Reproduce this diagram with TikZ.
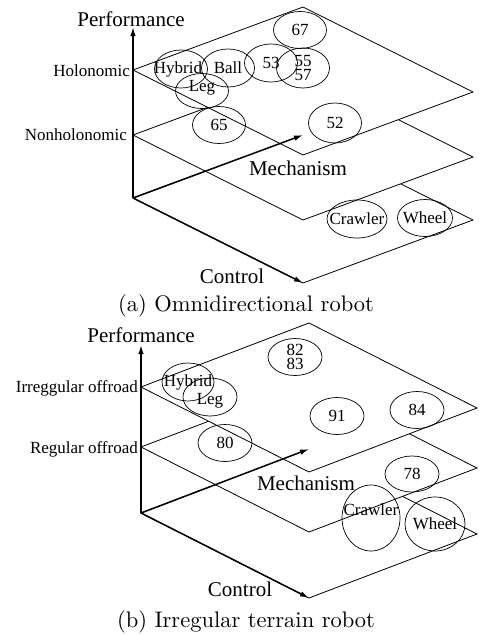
\documentclass[tikz,border=0pt]{standalone}
\usepackage{fontspec}
\newfontfamily\tms{Liberation Serif}
\newfontfamily\capfont{lmroman10-regular.otf}
\usetikzlibrary{shapes.geometric,arrows.meta}
\begin{document}
\begin{tikzpicture}[x=1pt,y=-1pt,
  plane/.style={draw, fill=white, line width=0.8pt, line join=miter},
  axis/.style={line width=1.5pt, -{Latex[length=9pt,width=5.5pt]}},
  ell/.style={draw, ellipse, line width=0.7pt, inner sep=0pt, minimum width=53pt, minimum height=37pt},
  etxt/.style={font=\tms\fontsize{17}{14}\selectfont, inner sep=0pt, align=center},
  lvl/.style={font=\tms\fontsize{17}{17}\selectfont, inner sep=0pt, anchor=base east},
  axlab/.style={font=\tms\fontsize{21}{21}\selectfont, inner sep=0pt, anchor=base},
  captxt/.style={font=\capfont\fontsize{22.5}{27}\selectfont, inner sep=0pt, anchor=base}]
\useasboundingbox (0,0) rectangle (479,635);
% ---------------- panel (a) ----------------
\coordinate (aO) at (133,198);
\coordinate (aM) at (303,135);
\coordinate (aBR) at (473,220);
\coordinate (aC) at (303,283);
\coordinate (aP) at (133,27);
\coordinate (aL1) at (133,135);
\coordinate (aT1) at (303,72);
\coordinate (aR1) at (473,157);
\coordinate (aB1) at (303,220);
\coordinate (aL2) at (133,70);
\coordinate (aT2) at (303,7);
\coordinate (aR2) at (473,92);
\coordinate (aB2) at (303,155);
\draw[plane] (aO) -- (aM) -- (aBR) -- (aC) -- cycle;
\draw[plane] (aL1) -- (aT1) -- (aR1) -- (aB1) -- cycle;
\draw[plane] (aL2) -- (aT2) -- (aR2) -- (aB2) -- cycle;
\draw[axis] (aO) -- (aP);
\draw[axis] (aO) -- (aM);
\draw[axis] (aO) -- (aC);
\node[axlab] (aPerf) at (131,26) {Performance};
\node[lvl] (aHol) at (130,76) {Holonomic};
\node[lvl] (aNon) at (127,140) {Nonholonomic};
\node[axlab] (aMech) at (298,175) {Mechanism};
\node[axlab] (aCtl) at (232,283) {Control};
\node[captxt] (aCap) at (246,311) {(a) Omnidirectional robot};
\node[ell, label={[etxt]center:67}] (e67) at (300,30) {};
\node[ell, minimum height=38pt, label={[etxt, xshift=-3pt]center:Hybrid}] (eHybA) at (181,69) {};
\node[ell, minimum height=38pt, label={[etxt]center:Ball}] (eBall) at (228,68) {};
\node[ell, minimum height=35pt, label={[etxt, yshift=3pt]center:Leg}] (eLegA) at (202,91) {};
\node[ell, minimum height=38pt, label={[etxt]center:53}] (e53) at (271,63) {};
\node[ell, minimum height=40pt, label={[etxt]center:{55\\57}}] (e55) at (303,68) {};
\node[ell, label={[etxt]center:65}] (e65) at (219,125) {};
\node[ell, minimum height=40pt, label={[etxt]center:52}] (e52) at (335,123) {};
\node[ell, minimum width=60pt, minimum height=38pt, label={[etxt]center:Crawler}] (eCrA) at (357,219) {};
\node[ell, minimum width=55pt, label={[etxt]center:Wheel}] (eWhA) at (425,218) {};
% ---------------- panel (b) ----------------
\coordinate (bO) at (141,513);
\coordinate (bM) at (309,449);
\coordinate (bBR) at (477,534);
\coordinate (bC) at (309,598);
\coordinate (bP) at (141,345);
\coordinate (bL1) at (141,447);
\coordinate (bT1) at (309,383);
\coordinate (bR1) at (477,468);
\coordinate (bB1) at (309,532);
\coordinate (bL2) at (141,387);
\coordinate (bT2) at (309,323);
\coordinate (bR2) at (477,408);
\coordinate (bB2) at (309,472);
\draw[plane] (bO) -- (bM) -- (bBR) -- (bC) -- cycle;
\draw[plane] (bL1) -- (bT1) -- (bR1) -- (bB1) -- cycle;
\draw[plane] (bL2) -- (bT2) -- (bR2) -- (bB2) -- cycle;
\draw[axis] (bO) -- (bP);
\draw[axis] (bO) -- (bM);
\draw[axis] (bO) -- (bC);
\node[axlab] (bPerf) at (141,342) {Performance};
\node[lvl] (bIrr) at (138,392) {Irreggular offroad};
\node[lvl] (bReg) at (138,453) {Regular offroad};
\node[axlab] (bMech) at (306,490) {Mechanism};
\node[axlab] (bCtl) at (240,596) {Control};
\node[captxt] (bCap) at (246,627) {(b) Irregular terrain robot};
\node[ell, minimum width=52pt, minimum height=38pt, label={[etxt]center:Hybrid}] (eHybB) at (188,382) {};
\node[ell, minimum width=54pt, minimum height=38pt, label={[etxt, yshift=-4pt]center:Leg}] (eLegB) at (210,397) {};
\node[ell, minimum width=54pt, label={[etxt]center:{82\\83}}] (e82) at (295,357) {};
\node[ell, minimum width=54pt, label={[etxt]center:91}] (e91) at (337,416) {};
\node[ell, minimum width=54pt, label={[etxt]center:84}] (e84) at (417,410) {};
\node[ell, minimum width=54pt, label={[etxt]center:80}] (e80) at (225,443) {};
\node[ell, minimum width=54pt, minimum height=36pt, label={[etxt]center:78}] (e78) at (412,474) {};
\node[ell, minimum width=58pt, minimum height=66pt, label={[etxt, yshift=8pt]center:Crawler}] (eCrB) at (371,518) {};
\node[ell, minimum width=60pt, minimum height=54pt, label={[etxt]center:Wheel}] (eWhB) at (435,524) {};
\end{tikzpicture}
\end{document}
